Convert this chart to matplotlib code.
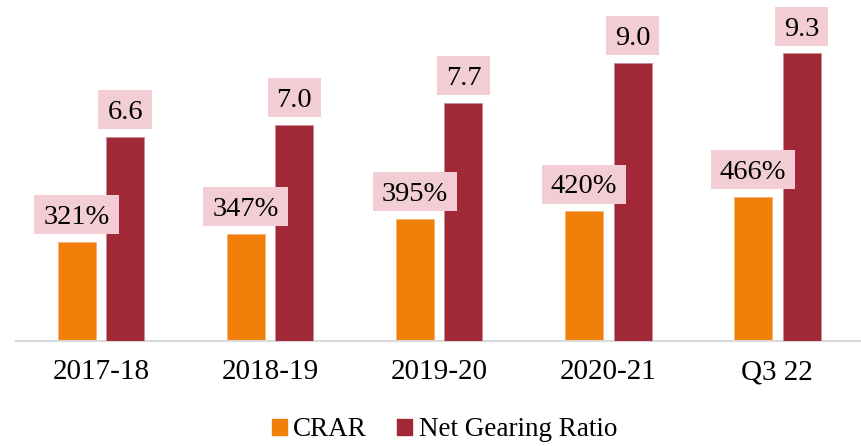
import numpy as np
import matplotlib.pyplot as plt
from matplotlib.patches import Rectangle
from matplotlib.transforms import IdentityTransform

categories = ["2017-18", "2018-19", "2019-20", "2020-21", "Q3 22"]
crar = [321, 347, 395, 420, 466]            # %
net_gearing = [6.6, 7.0, 7.7, 9.0, 9.3]     # x

orange = "#F0800A"
maroon = "#A02837"
pink = "#F2CED4"

plt.rcParams['font.family'] = ['Liberation Serif', 'DejaVu Serif']

fig = plt.figure(figsize=(8.61, 4.46), dpi=100)
ax = fig.add_axes([0.019, 0.2354, 0.982, 0.7646])
ax2 = ax.twinx()

x = np.arange(len(categories))
w = 0.225
off = 0.144

ax.bar(x - off, crar, w, color=orange, edgecolor="#F6B07A", linewidth=0.6)
ax2.bar(x + off, net_gearing, w, color=maroon, edgecolor="#C98A93", linewidth=0.6)

ax.set_xlim(-0.5, len(categories) - 0.5)
ax.set_ylim(0, 1103)
ax2.set_ylim(0, 11.03)

for a in (ax, ax2):
    for s in ("top", "left", "right"):
        a.spines[s].set_visible(False)
    a.set_yticks([])
ax2.spines["bottom"].set_visible(False)
ax.spines["bottom"].set_color("#D9D9D9")
ax.spines["bottom"].set_linewidth(1.5)

ax.set_xticks(x)
ax.set_xticklabels(categories, fontsize=21)
ax.tick_params(axis="x", length=0, pad=13)

handles = [Rectangle((0, 0), 1, 1, color=orange), Rectangle((0, 0), 1, 1, color=maroon)]
fig.legend(handles, ["CRAR", "Net Gearing Ratio"], loc="center", bbox_to_anchor=(0.516, 0.036),
           ncol=2, frameon=False, fontsize=19.5, handlelength=0.55, handleheight=0.55,
           handletextpad=0.25, columnspacing=1.1)

# value labels with pink boxes, placed in pixel space above each bar top
fig.canvas.draw()
renderer = fig.canvas.get_renderer()
lift, cap, box_h, padx = 27, 18.5, 39, 9

labels = []
for xi, v in zip(x, crar):
    labels.append((ax.transData.transform((xi - off, v)), f"{v}%"))
for xi, v in zip(x, net_gearing):
    labels.append((ax2.transData.transform((xi + off, v)), f"{v:.1f}"))

for (px, py), s in labels:
    cy = py + lift
    t = fig.text(px, cy - cap / 2, s, transform=IdentityTransform(), ha="center",
                 va="baseline", fontsize=20.5, zorder=3)
    ext = t.get_window_extent(renderer)
    bw = ext.width + 2 * padx
    fig.patches.append(Rectangle((px - bw / 2, cy - box_h / 2), bw, box_h,
                                 transform=IdentityTransform(), facecolor=pink,
                                 edgecolor="none", zorder=2, figure=fig))

fig.savefig("out.png", dpi=100)
